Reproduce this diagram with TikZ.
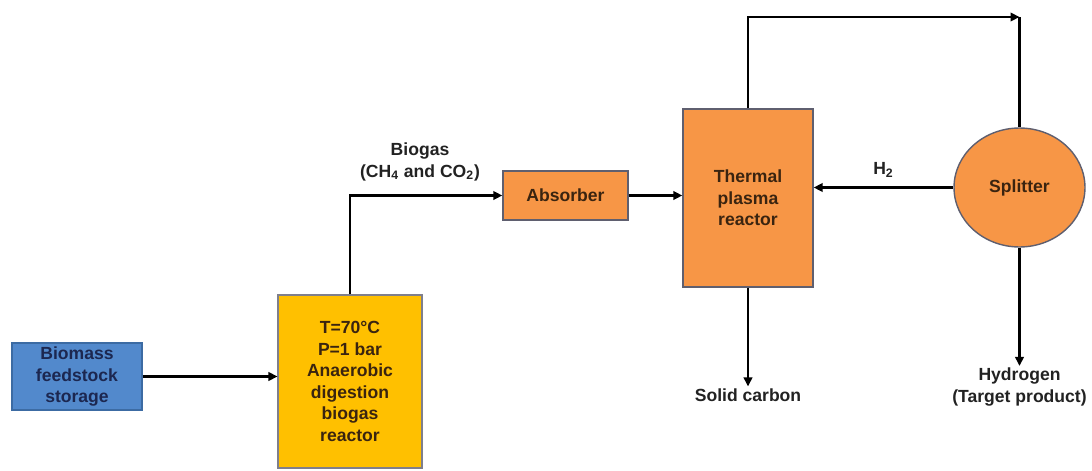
\documentclass[tikz,border=0pt]{standalone}
\usepackage{fontspec}
\setmainfont{Liberation Sans}
\usepackage{tikz}
\usetikzlibrary{positioning,arrows.meta,shapes.geometric,calc}
\definecolor{cBlue}{HTML}{5289CC}
\definecolor{cBlueD}{HTML}{3C6BA3}
\definecolor{cNavy}{HTML}{1C2750}
\definecolor{cYellow}{HTML}{FFC000}
\definecolor{cOrange}{HTML}{F79646}
\definecolor{cEdge}{HTML}{5F5F6F}
\definecolor{cBrown}{HTML}{3A2410}
\definecolor{cInk}{HTML}{222222}

\begin{document}
\begin{tikzpicture}[x=0.02cm, y=-0.02cm,
  every node/.style={font=\fontsize{10}{12.2}\selectfont\bfseries, align=center,
    inner sep=1pt},
  store/.style={fill=cBlue, draw=cBlueD, line width=0.6pt, text=cNavy,
    minimum width=2.6cm, minimum height=1.34cm},
  digester/.style={fill=cYellow, draw=cEdge!80, line width=0.6pt, text=cBrown,
    minimum width=2.88cm, minimum height=3.46cm},
  unit/.style={fill=cOrange, draw=cEdge, line width=0.8pt, text=cBrown},
  label/.style={text=cInk},
  arr/.style={-{Triangle[length=1.8mm, width=1.7mm]}, line width=1.3pt, color=black},
  pipe/.style={line width=1.3pt, color=black}]

  \useasboundingbox (0,0) rectangle (1092,470);

  \node[store] (bio) at (77,376.5) {Biomass\\feedstock\\storage};
  \node[digester] (dig) at (350,381.5)
    {T=70°C\\P=1 bar\\Anaerobic\\digestion\\biogas\\reactor};
  \node[unit, minimum width=2.5cm, minimum height=0.98cm] (abs) at (565.5,195.5) {Absorber};
  \node[unit, minimum width=2.6cm, minimum height=3.56cm] (plasma) at (748,198)
    {Thermal\\plasma\\reactor};
  \node[unit, ellipse, minimum width=2.62cm, minimum height=2.38cm] (split) at (1019.5,187.5)
    {Splitter};

  \node[label] (biogas) at (420,162) {Biogas\\(CH\textsubscript{4} and CO\textsubscript{2})};
  \node[label] (carbon) at (748,395) {Solid carbon};
  \node[label] (hydro) at (1019.5,387) {Hydrogen\\(Target product)};
  \coordinate (top) at ($(split.north |- 0,17)$);

  \draw[arr] (bio.east) -- (bio.east -| dig.west);
  \draw[arr] (dig.north) |- (abs.west);
  \draw[arr] (abs.east) -- (abs.east -| plasma.west);
  \draw[arr] (plasma.north) |- (top);
  \draw[pipe] (top) -- (split.north);
  \draw[arr] (split.west) -- node[label, above=4pt] {H\textsubscript{2}} (split.west -| plasma.east);
  \draw[arr] (plasma.south) -- (plasma.south |- carbon.north);
  \draw[arr] (split.south) -- (split.south |- hydro.north);
\end{tikzpicture}
\end{document}
